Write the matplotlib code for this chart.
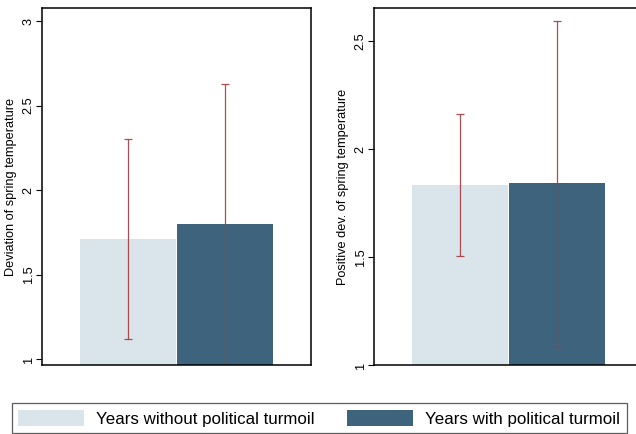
import matplotlib.pyplot as plt
from matplotlib.patches import Patch

plt.rcParams['font.family'] = ['Liberation Sans', 'DejaVu Sans']

groups = ['Years without political turmoil', 'Years with political turmoil']
colors = ['#d9e5eb', '#3e647d']
err_color = '#a53a3f'

# mean deviation and confidence bounds per group
dev_mean = [1.71, 1.80]
dev_lo = [1.118, 0.94]
dev_hi = [2.30, 2.63]

pos_mean = [1.834, 1.841]
pos_lo = [1.505, 1.085]
pos_hi = [2.161, 2.591]

fig = plt.figure(figsize=(6.36, 4.34), dpi=100)
ax1 = fig.add_axes([42 / 636, 69 / 434, 269 / 636, 357 / 434])
ax2 = fig.add_axes([374 / 636, 69 / 434, 269 / 636, 357 / 434])


def panel(ax, means, lo, hi, ylabel, ylim, ticks):
    x = list(range(len(means)))
    ax.bar(x, means, width=0.99, color=colors, zorder=1)
    for xi, m, l, h in zip(x, means, lo, hi):
        ax.errorbar(xi, m, yerr=[[m - l], [h - m]], fmt='none', ecolor=err_color,
                    elinewidth=0.9, capsize=2.8, capthick=0.9, zorder=2, alpha=0.9)
    ax.set_xlim(-0.88, 1.88)
    ax.set_ylim(*ylim)
    ax.set_yticks(ticks)
    ax.set_yticklabels([f'{t:g}' for t in ticks], rotation=90, va='center')
    ax.set_xticks([])
    ax.tick_params(axis='y', length=4, width=0.8, labelsize=9.2, pad=1.2)
    ax.set_ylabel(ylabel, fontsize=9.2, labelpad=4)
    for s in ax.spines.values():
        s.set_linewidth(1.1)


panel(ax1, dev_mean, dev_lo, dev_hi, 'Deviation of spring temperature',
      (0.965, 3.077), [1, 1.5, 2, 2.5, 3])
panel(ax2, pos_mean, pos_lo, pos_hi, 'Positive dev. of spring temperature',
      (1.0, 2.653), [1, 1.5, 2, 2.5])

handles = [Patch(facecolor=c, edgecolor='none') for c in colors]
leg = fig.legend(handles, groups, loc='upper left', bbox_to_anchor=(11.5 / 636, 1 - 403 / 434),
                 ncol=2, fontsize=12.2, handlelength=3.9, handleheight=1.08,
                 handletextpad=0.69, columnspacing=1.93, borderpad=0.4,
                 borderaxespad=0, fancybox=False, frameon=True)
leg.get_frame().set_edgecolor('#333333')
leg.get_frame().set_linewidth(0.9)

fig.savefig('out.png', dpi=100)
